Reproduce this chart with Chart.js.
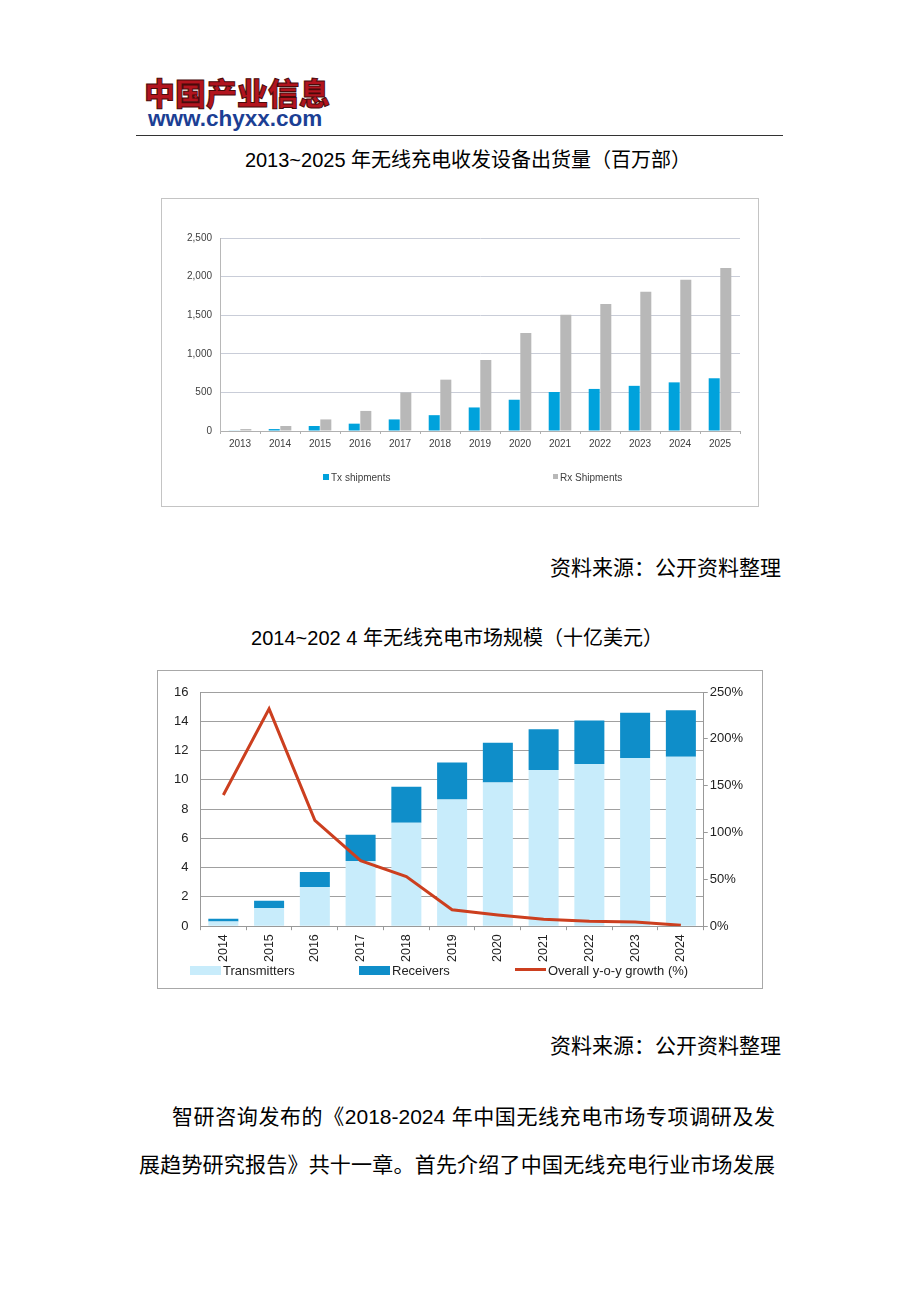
<!DOCTYPE html>
<html>
<head>
<meta charset="utf-8">
<script src="https://cdn.jsdelivr.net/npm/chart.js@4.4.0/dist/chart.umd.min.js"></script>
<style>
  html,body{margin:0;padding:0;background:#fff;}
  body{width:920px;height:1302px;position:relative;overflow:hidden;font-family:"Liberation Sans","Noto Sans CJK SC",sans-serif;color:#000;}
  .abs{position:absolute;}
  .logo{left:144px;top:74px;font-family:"Noto Sans CJK SC",sans-serif;font-weight:900;font-size:31px;color:#b2141e;-webkit-text-stroke:1px #4a0a0a;letter-spacing:0px;line-height:36px;white-space:nowrap;}
  .url{left:148px;top:106px;font-family:"Liberation Sans",sans-serif;font-weight:bold;font-size:22.5px;color:#1c3f94;line-height:26px;white-space:nowrap;}
  .rule{left:136px;top:135px;width:647px;height:0;border-top:1.5px solid #333;}
  .title{font-size:20px;line-height:24px;white-space:nowrap;text-align:center;width:700px;}
  .src{font-size:21px;line-height:26px;white-space:nowrap;text-align:right;width:300px;left:481px;}
  .box{border:1px solid #c4c4c4;box-sizing:border-box;}
  .body{font-size:21px;line-height:26px;white-space:nowrap;text-align:justify;text-align-last:justify;}
  .lg{font-family:"Liberation Sans",sans-serif;white-space:nowrap;}
</style>
</head>
<body>
<div class="abs logo">中国产业信息</div>
<div class="abs url">www.chyxx.com</div>
<div class="abs rule"></div>

<div class="abs title" style="left:118px;top:148px;">2013~2025 年无线充电收发设备出货量（百万部）</div>

<div class="abs box" style="left:161px;top:198px;width:598px;height:309px;"></div>
<div class="abs" style="left:162px;top:199px;width:596px;height:307px;"><canvas id="c1" width="596" height="307"></canvas></div>
<div class="abs lg" style="left:323px;top:472px;font-size:10px;color:#404040;line-height:12px;">
  <span style="display:inline-block;width:6px;height:6px;background:#00a2dc;margin-right:2px;vertical-align:1px;"></span>Tx shipments
</div>
<div class="abs lg" style="left:553px;top:472px;font-size:10px;color:#404040;line-height:12px;">
  <span style="display:inline-block;width:5px;height:5px;background:#b8b8b8;margin-right:2px;vertical-align:2px;"></span>Rx Shipments
</div>

<div class="abs src" style="top:555px;">资料来源：公开资料整理</div>

<div class="abs title" style="left:107px;top:626px;">2014~202 4 年无线充电市场规模（十亿美元）</div>

<div class="abs box" style="left:157px;top:670px;width:606px;height:319px;border-color:#a8a8a8;"></div>
<div class="abs" style="left:158px;top:671px;width:604px;height:317px;"><canvas id="c2" width="604" height="317"></canvas></div>
<div class="abs lg" style="left:190px;top:963px;font-size:13px;color:#222;line-height:16px;">
  <span style="display:inline-block;width:31px;height:9px;background:#c8ecfb;margin-right:2px;vertical-align:0px;"></span>Transmitters
</div>
<div class="abs lg" style="left:359px;top:963px;font-size:13px;color:#222;line-height:16px;">
  <span style="display:inline-block;width:31px;height:9px;background:#0f8ec9;margin-right:2px;vertical-align:0px;"></span>Receivers
</div>
<div class="abs lg" style="left:515px;top:963px;font-size:13px;color:#222;line-height:16px;">
  <span style="display:inline-block;width:31px;height:3px;background:#cc3f1f;margin-right:2px;vertical-align:4px;"></span>Overall y-o-y growth (%)
</div>

<div class="abs src" style="top:1033px;">资料来源：公开资料整理</div>

<div class="abs body" style="left:172px;top:1104px;width:603px;">智研咨询发布的《2018-2024 年中国无线充电市场专项调研及发</div>
<div class="abs body" style="left:139px;top:1152px;width:636px;">展趋势研究报告》共十一章。首先介绍了中国无线充电行业市场发展</div>

<script>
// ---- Chart 1 data: shipments (millions of units)
const years1 = ['2013','2014','2015','2016','2017','2018','2019','2020','2021','2022','2023','2024','2025'];
const txShipments = [5, 25, 65, 95, 150, 205, 305, 405, 505, 545, 585, 630, 683];
const rxShipments = [25, 65, 150, 260, 500, 665, 920, 1270, 1505, 1645, 1805, 1960, 2110];

// ---- Chart 2 data: market size (billion USD) and growth (%)
const years2 = ['2014','2015','2016','2017','2018','2019','2020','2021','2022','2023','2024'];
const transmitters = [0.32, 1.24, 2.68, 4.46, 7.07, 8.65, 9.82, 10.67, 11.08, 11.49, 11.58];
const receivers = [0.18, 0.50, 1.03, 1.79, 2.45, 2.54, 2.72, 2.79, 2.97, 3.09, 3.18];
const growth = [140, 232, 113, 70, 53, 17.5, 12, 7.5, 5.4, 4.6, 1];

new Chart(document.getElementById('c1'), {
  type: 'bar',
  data: {
    labels: years1,
    datasets: [
      {label:'Tx shipments', data: txShipments, backgroundColor:'#00a2dc', categoryPercentage:0.58, barPercentage:0.95},
      {label:'Rx Shipments', data: rxShipments, backgroundColor:'#b8b8b8', categoryPercentage:0.58, barPercentage:0.95}
    ]
  },
  options: {
    responsive:false, animation:false, devicePixelRatio:1,
    layout:{padding:{left:17,top:39,right:18,bottom:52}},
    plugins:{legend:{display:false}, tooltip:{enabled:false}},
    scales:{
      x:{
        grid:{display:true, drawOnChartArea:false, drawTicks:true, tickLength:3, offset:true, color:'#b0b0b0'},
        border:{color:'#b0b0b0'},
        ticks:{color:'#404040', font:{family:'Liberation Sans', size:10}, padding:4, maxRotation:0}
      },
      y:{
        min:0, max:2500,
        grid:{color:'#c9cdd8', drawTicks:false},
        border:{color:'#b8b8b8'},
        ticks:{stepSize:500, color:'#404040', font:{family:'Liberation Sans', size:10}, padding:8,
          callback:(v)=>v.toLocaleString('en-US')}
      }
    }
  }
});

new Chart(document.getElementById('c2'), {
  type: 'bar',
  data: {
    labels: years2,
    datasets: [
      {type:'line', label:'Overall y-o-y growth (%)', data: growth, yAxisID:'y1', borderColor:'#cc3f1f', borderWidth:3, pointRadius:0, tension:0, fill:false, order:0},
      {label:'Transmitters', data: transmitters, backgroundColor:'#c8ecfb', yAxisID:'y', stack:'s', order:1, barPercentage:0.82},
      {label:'Receivers', data: receivers, backgroundColor:'#0f8ec9', yAxisID:'y', stack:'s', order:1, barPercentage:0.82}
    ]
  },
  options: {
    responsive:false, animation:false, devicePixelRatio:1,
    layout:{padding:{left:4,top:21,right:17,bottom:22}},
    plugins:{legend:{display:false}, tooltip:{enabled:false}},
    scales:{
      x:{
        stacked:true,
        grid:{display:true, drawOnChartArea:false, drawTicks:true, tickLength:4, offset:true, color:'#999'},
        border:{color:'#999'},
        ticks:{color:'#222', font:{family:'Liberation Sans', size:12.5}, padding:4, minRotation:90, maxRotation:90}
      },
      y:{
        stacked:true, min:0, max:16,
        grid:{color:'#a0a0a0', drawTicks:false},
        border:{color:'#999'},
        ticks:{stepSize:2, color:'#222', font:{family:'Liberation Sans', size:13}, padding:12}
      },
      y1:{
        position:'right', min:0, max:250,
        grid:{drawOnChartArea:false, drawTicks:true, tickLength:4, color:'#999'},
        border:{color:'#999'},
        ticks:{stepSize:50, color:'#222', font:{family:'Liberation Sans', size:13}, padding:2, callback:(v)=>v+'%'}
      }
    }
  }
});
</script>
</body>
</html>
